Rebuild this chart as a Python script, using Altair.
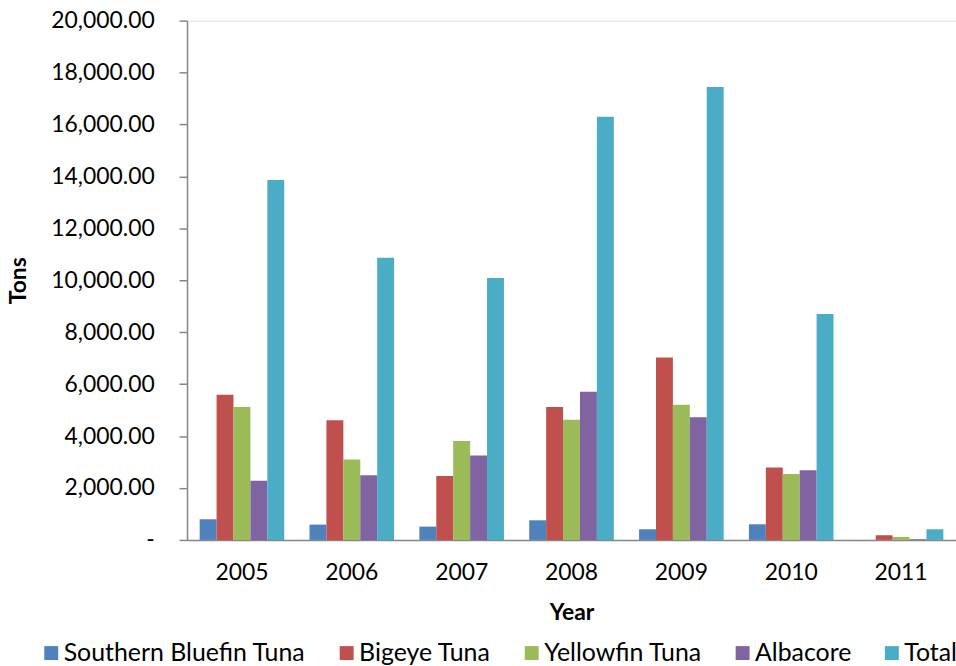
import altair as alt
import pandas as pd

# Annual catch (tons) by species, with the yearly total
years = ["2005", "2006", "2007", "2008", "2009", "2010", "2011"]
series = ["Southern Bluefin Tuna", "Bigeye Tuna", "Yellowfin Tuna", "Albacore", "Total"]

southern_bluefin = [795, 589, 512, 755, 410, 602, 0]
bigeye = [5593, 4607, 2457, 5118, 7025, 2790, 180]
yellowfin = [5118, 3097, 3813, 4632, 5208, 2534, 115]
albacore = [2278, 2495, 3250, 5707, 4722, 2687, 30]
total = [13858, 10864, 10083, 16302, 17441, 8700, 410]

colors = ["#4F81BD", "#C0504D", "#9BBB59", "#8064A2", "#4BACC6"]
y_ticks = list(range(0, 20001, 2000))

rows = []
for name, vals in zip(series, [southern_bluefin, bigeye, yellowfin, albacore, total]):
    for yr, v in zip(years, vals):
        rows.append({"Year": yr, "Series": name, "Tons": v})
df = pd.DataFrame(rows)

FONT = "Lato"
AXIS_GREY = "#868686"

chart = (
    alt.Chart(df)
    .mark_bar(strokeWidth=0)
    .encode(
        x=alt.X(
            "Year:N",
            sort=years,
            scale=alt.Scale(paddingInner=0.23, paddingOuter=0.115),
            axis=alt.Axis(
                title="Year",
                labelAngle=0,
                ticks=False,
                tickSize=0,
                labelPadding=22,
                labelFontSize=23,
                labelFont=FONT,
                labelColor="#000000",
                domainColor=AXIS_GREY,
                domainWidth=1.5,
                titleFont=FONT,
                titleFontSize=23,
                titleFontWeight="bold",
                titleColor="#000000",
                titleBaseline="middle",
                titleY=73,
            ),
        ),
        xOffset=alt.XOffset("Series:N", sort=series,
                            scale=alt.Scale(paddingInner=0, paddingOuter=0)),
        y=alt.Y(
            "Tons:Q",
            scale=alt.Scale(domain=[0, 20000], nice=False, zero=True),
            axis=alt.Axis(
                title="Tons",
                values=y_ticks,
                labelExpr="datum.value == 0 ? '-' : format(datum.value, ',.2f')",
                grid=False,
                tickSize=8,
                tickColor=AXIS_GREY,
                tickWidth=1.5,
                domainColor=AXIS_GREY,
                domainWidth=1.5,
                labelPadding=25,
                labelFontSize=23,
                labelFont=FONT,
                labelColor="#000000",
                titleFont=FONT,
                titleFontSize=23,
                titleFontWeight="bold",
                titleColor="#000000",
                titleAngle=-90,
                titleBaseline="middle",
                titleAlign="center",
                titleX=-169,
                titleY=261,
            ),
        ),
        color=alt.Color(
            "Series:N",
            sort=series,
            scale=alt.Scale(domain=series, range=colors),
            legend=alt.Legend(
                title=None,
                orient="none",
                direction="horizontal",
                legendX=-149,
                legendY=623,
                symbolType="square",
                symbolSize=196,
                symbolStrokeWidth=0,
                labelFont=FONT,
                labelFontSize=25,
                labelColor="#000000",
                labelOffset=0,
                columnPadding=28,
                labelLimit=400,
            ),
        ),
    )
    .properties(
        width=773,
        height=522,
        padding={"left": 188, "top": 19, "right": 0, "bottom": 125},
        autosize=alt.AutoSizeParams(type="none"),
    )
    .configure_view(stroke=None)
    .configure(background="#ffffff")
)

chart.save("out.html", embed_options={"renderer": "svg", "actions": False})
